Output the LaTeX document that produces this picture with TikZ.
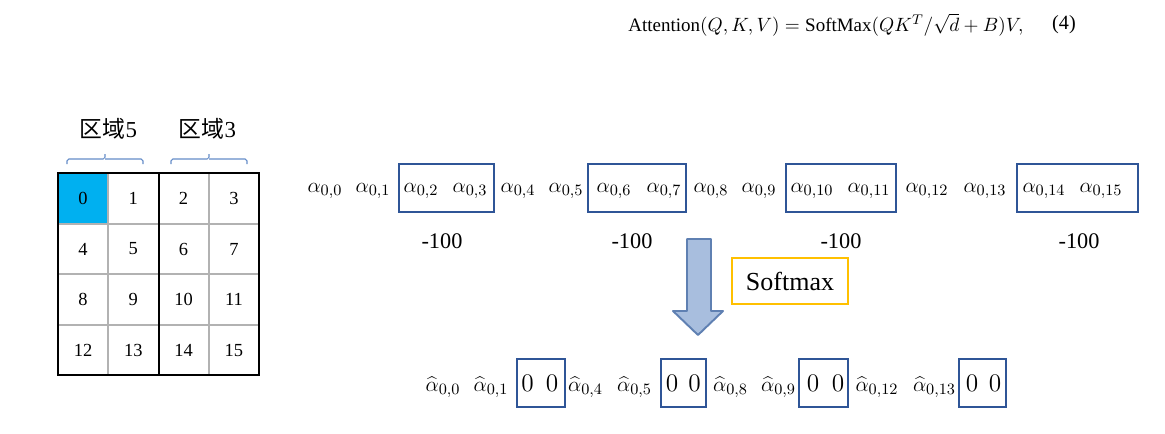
\documentclass[tikz,border=0pt]{standalone}
\usepackage{fontspec}
\setmainfont{Liberation Serif}
\newfontfamily\cjk{Noto Sans CJK SC}
\usetikzlibrary{positioning, calc}

\definecolor{cellblue}{RGB}{0,176,240}
\definecolor{boxblue}{RGB}{47,85,151}
\definecolor{bracecol}{RGB}{100,140,200}
\definecolor{arrowfill}{RGB}{168,190,222}
\definecolor{arrowline}{RGB}{95,128,178}
\definecolor{softyellow}{RGB}{255,192,0}

\begin{document}
\begin{tikzpicture}[
    x=0.02cm, y=-0.02cm,
    cellnum/.style={font=\fontsize{10.5}{12}\selectfont},
    alphanode/.style={anchor=base, inner sep=0pt, font=\fontsize{13}{15}\selectfont},
    zeronode/.style={anchor=base, inner sep=0pt, font=\fontsize{14}{16}\selectfont},
    minusnode/.style={anchor=base, inner sep=0pt, font=\fontsize{12.7}{15}\selectfont},
    groupbox/.style={draw=boxblue, line width=1.4pt},
    gridthin/.style={draw=black!30, line width=0.8pt},
    gridthick/.style={draw=black, line width=1.1pt},
    regionbrace/.style={draw=bracecol, line width=0.6pt, rounded corners=1pt},
    bigarrow/.style={fill=arrowfill, draw=arrowline, line width=1.1pt, line join=round}
]
    \useasboundingbox (0,0) rectangle (1165,433);

    % Formula ===========================
    \node[inner sep=0pt, font=\fontsize{10.8}{13}\selectfont] (formula) at (826,25)
        {$\mathrm{Attention}(Q,K,V)=\mathrm{SoftMax}(QK^T/\sqrt{d}+B)V,$};
    \node[inner sep=0pt, font=\fontsize{11.5}{13}\selectfont] (eqnum) at (1064,25) {(4)};

    % The 4x4 window ===========================
    \fill[cellblue] (58,173) rectangle (108,224);
    \draw[gridthin] (108,173) -- (108,375);
    \draw[gridthin] (209,173) -- (209,375);
    \draw[gridthin] (58,224) -- (259,224);
    \draw[gridthin] (58,274) -- (259,274);
    \draw[gridthin] (58,325) -- (259,325);
    \draw[gridthick] (159,173) -- (159,375);
    \draw[gridthick] (58,173) rectangle (259,375);
    \foreach \r in {0,...,3}
        \foreach \c in {0,...,3} {
            \pgfmathtruncatemacro\num{4*\r+\c}
            \node[cellnum] (c\num) at ({83+50.3*\c},{198.5+50.5*\r}) {\num};
        }

    % Region braces and labels ====================
    \draw[regionbrace] (67,164) |- (105,159) -- (105,154);
    \draw[regionbrace] (105,159) -| (143,164);
    \draw[regionbrace] (171,164) |- (209,159) -- (209,154);
    \draw[regionbrace] (209,159) -| (247,164);
    \node[font=\fontsize{13}{15}\selectfont] (reg5) at (108.5,129) {{\cjk 区域}5};
    \node[font=\fontsize{13}{15}\selectfont] (reg3) at (207.5,129) {{\cjk 区域}3};

    % Attention scores of token 0 ====================
    \foreach \x/\k in {325/0, 373/1, 421/2, 470/3, 518/4, 566/5, 614/6, 664/7,
                       711/8, 759/9, 812/10, 869/11, 927/12, 985/13, 1044/14, 1101/15}
        \node[alphanode] (a\k) at (\x,192) {$\alpha_{0,\k}$};

    \draw[groupbox] (399,164) rectangle (494,212);
    \draw[groupbox] (588,164) rectangle (686,212);
    \draw[groupbox] (786,164) rectangle (896,212);
    \draw[groupbox] (1017,164) rectangle (1138,212);

    % Mask values under the boxes
    \node[minusnode] (m1) at (442,248) {-100};
    \node[minusnode] (m2) at (632,248) {-100};
    \node[minusnode] (m3) at (841,248) {-100};
    \node[minusnode] (m4) at (1079,248) {-100};

    % Softmax step ====================
    \draw[bigarrow] (687,239) -- (711,239) -- (711,311) -- (723,311)
        -- (698,335) -- (673,311) -- (687,311) -- cycle;
    \node[draw=softyellow, line width=0.9pt, minimum width=2.32cm, minimum height=0.92cm,
          font=\fontsize{14.8}{17}\selectfont] (softmax) at (790,281) {Softmax};

    % Result after softmax ====================
    \foreach \x/\k in {443/0, 491/1, 585.5/4, 634.5/5, 730.5/8, 778.5/9, 877/12, 934.5/13}
        \node[alphanode] (h\k) at (\x,391) {$\widehat{\alpha}_{0,\k}$};
    \foreach \x [count=\i] in {527.5, 552, 672, 694.5, 813, 838, 972, 995}
        \node[zeronode] (z\i) at (\x,391) {$0$};

    \draw[groupbox] (517,359) rectangle (565,407);
    \draw[groupbox] (661,359) rectangle (706,407);
    \draw[groupbox] (799,359) rectangle (848,407);
    \draw[groupbox] (959,359) rectangle (1006,407);

\end{tikzpicture}
\end{document}
